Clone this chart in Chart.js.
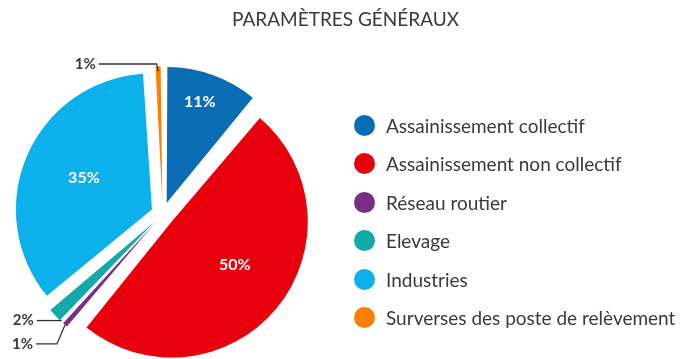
<!DOCTYPE html>
<html lang="fr">
<head>
<meta charset="utf-8">
<title>Paramètres généraux</title>
<script src="https://cdn.jsdelivr.net/npm/chart.js@4.4.1/dist/chart.umd.min.js"></script>
<style>
  html, body { margin: 0; padding: 0; background: #fff; }
  #cadre { position: relative; width: 682px; height: 359px; overflow: hidden; font-family: Lato, sans-serif; color: #3a3a3a; }
  #pieChart { position: absolute; left: 0; top: 0; }
  #titre { position: absolute; left: 0; top: 7px; width: 691px; text-align: center; font-size: 19px; line-height: 24px; }
  #legende { position: absolute; left: 354px; top: 0; margin: 0; padding: 0; list-style: none; }
  #legende li { position: absolute; left: 0; height: 22px; display: flex; align-items: center; white-space: nowrap; font-size: 19px; }
  #legende .pastille { width: 21px; height: 21px; border-radius: 50%; margin-right: 11px; flex: none; }
</style>
</head>
<body>
<div id="cadre">
  <canvas id="pieChart" width="682" height="359"></canvas>
  <div id="titre">PARAMÈTRES GÉNÉRAUX</div>
  <ul id="legende"></ul>
</div>
<script>
var categories = [
    "Assainissement collectif",
    "Assainissement non collectif",
    "Réseau routier",
    "Elevage",
    "Industries",
    "Surverses des poste de relèvement"
];
var parts = [11, 50, 1, 2, 35, 1];
var couleurs = ["#0a6db4", "#e8000c", "#7a2d85", "#14a9a9", "#0cb0ea", "#ff7d00"];

// where the value sits inside a wedge: [fraction of radius, fraction of the wedge angle]
var posInterne = [[0.78, 0.46], [0.56, 0.47], null, null, [0.55, 0.51], null];
// small wedges get their value outside, with a leader line
var renvois = [
    {index: 5, point: 'milieu', retrait: 5, coude: [-1.5, -7.4], bras: 58},
    {index: 3, point: 'debut', retrait: 1, coude: [-2, 0], bras: 23},
    {index: 2, point: 'milieu', retrait: 0, coude: [-8, 19], bras: 21}
];

var total = parts.reduce(function (a, b) { return a + b; }, 0);
function pourcent(i) {
    return Math.round(parts[i] / total * 100) + '%';
}

// apex of an exploded wedge (Chart.js shifts it by offset / 4)
function sommet(arc) {
    var mid = (arc.startAngle + arc.endAngle) / 2;
    var d = (arc.options.offset || 0) / 4;
    return {x: arc.x + Math.cos(mid) * d, y: arc.y + Math.sin(mid) * d, mid: mid};
}

var etiquettes = {
    id: 'etiquettes',
    beforeDatasetsDraw: function (chart) {
        // Chart.js also grows offset arcs; keep every wedge at the same radius
        var meta = chart.getDatasetMeta(0);
        var base = meta.controller.outerRadius;
        meta.data.forEach(function (arc) {
            var d = (arc.options.offset || 0) / 4;
            arc.outerRadius = base - d * (1 - Math.sin(Math.min(Math.PI, arc.circumference)));
        });
    },
    afterDatasetsDraw: function (chart) {
        var ctx = chart.ctx;
        var meta = chart.getDatasetMeta(0);
        var base = meta.controller.outerRadius;
        ctx.save();
        ctx.textBaseline = 'middle';

        ctx.font = 'bold 16px Lato';
        ctx.fillStyle = '#fff';
        ctx.textAlign = 'center';
        meta.data.forEach(function (arc, i) {
            if (!posInterne[i]) return;
            var s = sommet(arc);
            var a = arc.startAngle + (arc.endAngle - arc.startAngle) * posInterne[i][1];
            var r = base * posInterne[i][0];
            ctx.fillText(pourcent(i), s.x + Math.cos(a) * r, s.y + Math.sin(a) * r);
        });

        ctx.font = 'bold 15px Lato';
        ctx.fillStyle = '#3a3a3a';
        ctx.strokeStyle = '#333';
        ctx.lineWidth = 1.3;
        ctx.textAlign = 'right';
        renvois.forEach(function (r) {
            var arc = meta.data[r.index];
            var s = sommet(arc);
            var a = r.point === 'debut' ? arc.startAngle : s.mid;
            var rad = base - r.retrait;
            var bx = s.x + Math.cos(a) * rad, by = s.y + Math.sin(a) * rad;
            var cx = bx + r.coude[0], cy = by + r.coude[1];
            var fin = cx - r.bras;
            ctx.beginPath();
            ctx.moveTo(bx, by);
            ctx.lineTo(cx, cy);
            ctx.lineTo(fin, cy);
            ctx.stroke();
            ctx.fillText(pourcent(r.index), fin - 3, cy);
        });
        ctx.restore();
    }
};

var pieChart = new Chart(document.getElementById('pieChart'), {
    type: 'pie',
    data: {
        labels: categories,
        datasets: [{
            data: parts,
            backgroundColor: couleurs,
            hoverBackgroundColor: couleurs,
            borderWidth: 0,
            offset: 47,
            hoverOffset: 0,
            radius: 136
        }]
    },
    options: {
        responsive: false,
        animation: false,
        events: [],
        layout: {
            padding: {left: 0, right: 356.6, top: 69.2, bottom: 0}
        },
        plugins: {
            legend: {display: false},
            title: {display: false},
            tooltip: {enabled: false}
        }
    },
    plugins: [etiquettes]
});

// legend beside the pie
var legende = document.getElementById('legende');
categories.forEach(function (nom, i) {
    var li = document.createElement('li');
    li.style.top = (125 + 38.5 * i - 11) + 'px';
    var p = document.createElement('span');
    p.className = 'pastille';
    p.style.background = couleurs[i];
    li.appendChild(p);
    li.appendChild(document.createTextNode(nom));
    legende.appendChild(li);
});
</script>
</body>
</html>
